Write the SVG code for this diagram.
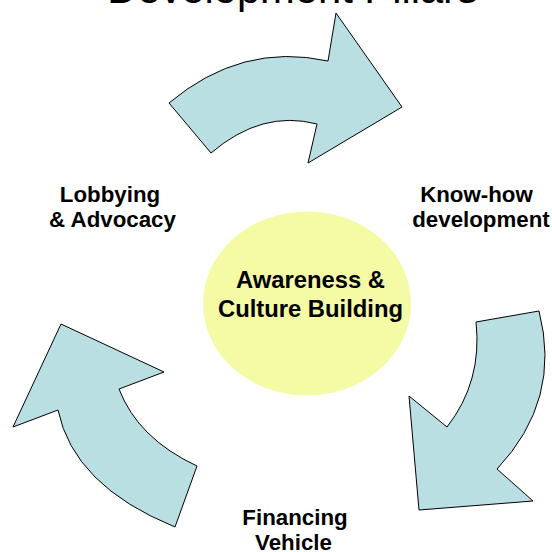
<svg xmlns="http://www.w3.org/2000/svg" width="552" height="552" viewBox="0 0 552 552">
<style>
.arrow{fill:#B9DFE3;stroke:#000;stroke-width:1;stroke-linejoin:miter}
.lbl{font-family:"Liberation Sans",Arial,sans-serif;font-weight:bold;font-size:22.3px;fill:#000;text-anchor:middle}
.ctr{font-family:"Liberation Sans",Arial,sans-serif;font-weight:bold;font-size:23.8px;fill:#000;text-anchor:middle}
.title{font-family:"Liberation Sans",Arial,sans-serif;font-size:41.7px;fill:#000;text-anchor:middle}
</style>
<rect width="552" height="552" fill="#fff"/>
<text class="title" x="292.5" y="3">Development Pillars</text>
<g id="connectors">
<path id="arrow-top" class="arrow" d="M336,13 L402,107 L308,163 L317,124 Q262,109.5 211,153 L169,103 Q241.5,42 328,61 Z"/>
<path id="arrow-right" class="arrow" d="M539,311 Q562,400 497,469 L533,501 L419,510 L409,396 L447,427 Q482.5,381.5 476,322 Z"/>
<path id="arrow-left" class="arrow" d="M61,324 L164,372 L119,389 Q138,438.5 197,466 L175,527 Q73.5,485.5 58,410 L13,427 Z"/>
</g>
<g id="center">
<ellipse cx="307" cy="303.5" rx="104" ry="92" fill="#F4FBA4"/>
<text class="ctr" x="310.5" y="288">Awareness &amp;</text>
<text class="ctr" x="310.5" y="317">Culture Building</text>
</g>
<g id="lobbying">
<text class="lbl" x="110" y="202">Lobbying</text>
<text class="lbl" x="112.5" y="227">&amp; Advocacy</text>
</g>
<g id="knowhow">
<text class="lbl" x="476.5" y="202">Know-how</text>
<text class="lbl" x="481" y="227">development</text>
</g>
<g id="financing">
<text class="lbl" x="295" y="525">Financing</text>
<text class="lbl" x="293.5" y="550">Vehicle</text>
</g>
</svg>
